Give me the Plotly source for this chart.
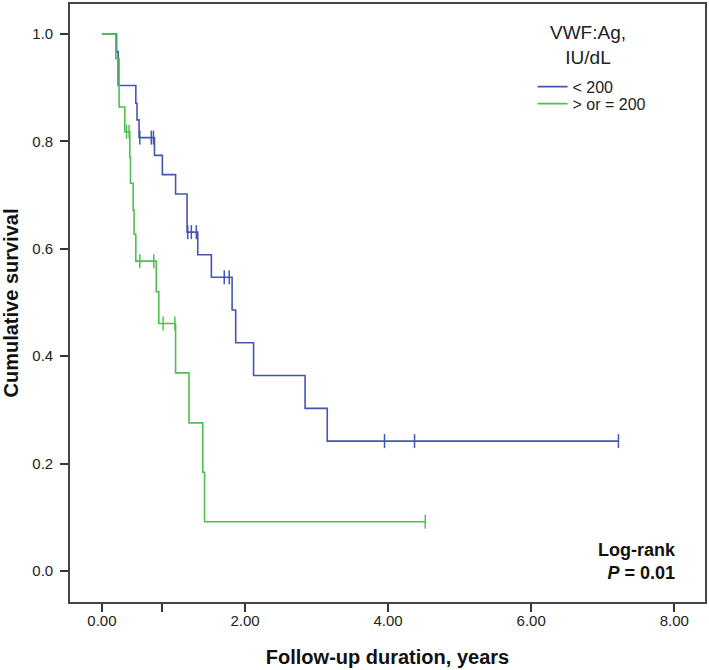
import plotly.graph_objects as go

# ---- data ----
blue_name = "< 200"
blue_time = [0.205, 0.227, 0.474, 0.491, 0.519, 0.735, 0.845, 1.03, 1.19, 1.34, 1.53, 1.82, 1.87, 2.12, 2.84, 3.15]
blue_surv = [0.967, 0.904, 0.871, 0.840, 0.807, 0.774, 0.738, 0.702, 0.631, 0.589, 0.547, 0.486, 0.425, 0.364, 0.303, 0.242]
blue_censor = [0.53, 0.69, 0.72, 1.20, 1.25, 1.32, 1.71, 1.78, 3.95, 4.37, 7.22]

green_name = "> or = 200"
green_time = [0.195, 0.24, 0.32, 0.39, 0.40, 0.437, 0.45, 0.474, 0.76, 0.795, 1.03, 1.217, 1.41, 1.435]
green_surv = [0.954, 0.864, 0.818, 0.770, 0.722, 0.672, 0.627, 0.577, 0.520, 0.461, 0.369, 0.276, 0.184, 0.092]
green_censor = [0.344, 0.38, 0.53, 0.725, 0.855, 1.02, 4.52]

legend_title = "VWF:Ag,<br>IU/dL"
x_tickvals = [0, 0.84, 2, 4, 6, 8]
x_ticktext = ["0.00", "", "2.00", "4.00", "6.00", "8.00"]
y_tickvals = [0.0, 0.2, 0.4, 0.6, 0.8, 1.0]
y_ticktext = ["0.0", "0.2", "0.4", "0.6", "0.8", "1.0"]

BLUE = "#4357b0"
GREEN = "#4fc04f"
FONT = "Liberation Sans, Arial, sans-serif"


def surv_at(times, surv, t):
    s = 1.0
    for ti, si in zip(times, surv):
        if ti <= t:
            s = si
    return s


fig = go.Figure()

for name, times, surv, cens, col, leg in [
    (blue_name, blue_time, blue_surv, blue_censor, BLUE, "legend"),
    (green_name, green_time, green_surv, green_censor, GREEN, "legend2"),
]:
    xs = [0] + times + [max(cens)]
    ys = [1.0] + surv + [surv[-1]]
    fig.add_trace(go.Scatter(
        x=xs, y=ys, mode="lines", line=dict(color=col, width=1.6, shape="hv"),
        name=name, showlegend=True, legend=leg, hoverinfo="skip"))
    fig.add_trace(go.Scatter(
        x=cens, y=[surv_at(times, surv, c) for c in cens], mode="markers",
        marker=dict(symbol="line-ns", size=10, line=dict(color=col, width=1.5)),
        showlegend=False, hoverinfo="skip"))

legend_style = dict(
    x=0.7284, xanchor="left", yanchor="middle",
    bgcolor="rgba(0,0,0,0)",
    font=dict(size=16, family=FONT, color="#222"),
)

fig.update_layout(
    width=709, height=670,
    margin=dict(l=70, r=2, t=2, b=68),
    paper_bgcolor="white", plot_bgcolor="white",
    font=dict(family=FONT, color="#222"),
    showlegend=True,
    legend=dict(y=0.8617, **legend_style),
    legend2=dict(y=0.8333, **legend_style),
    xaxis=dict(
        range=[-0.446, 8.43], tickvals=x_tickvals, ticktext=x_ticktext,
        ticks="outside", ticklen=8, tickwidth=2, tickcolor="#333",
        showline=True, linecolor="#444", linewidth=1.6, mirror=True,
        showgrid=False, zeroline=False,
        tickfont=dict(size=15, family=FONT, color="#222"),
        ticklabelstandoff=-4,
        title=dict(text="<b>Follow-up duration, years</b>", standoff=22,
                   font=dict(size=20, family=FONT, color="#111")),
    ),
    yaxis=dict(
        range=[-0.0575, 1.0557], tickvals=y_tickvals, ticktext=y_ticktext,
        ticks="outside", ticklen=8, tickwidth=2, tickcolor="#333",
        showline=True, linecolor="#444", linewidth=1.6, mirror=True,
        showgrid=False, zeroline=False,
        tickfont=dict(size=15, family=FONT, color="#222"),
        ticklabelstandoff=4,
        title=dict(text="<b>Cumulative survival</b>", standoff=14,
                   font=dict(size=20, family=FONT, color="#111")),
    ),
    annotations=[
        dict(text="<b>Log-rank</b><br><b><i>P</i> = 0.01</b>",
             xref="paper", yref="paper", x=0.958, y=0.068,
             xanchor="right", yanchor="middle", align="right", showarrow=False,
             font=dict(size=18, family=FONT, color="#111")),
        dict(text=legend_title,
             xref="paper", yref="paper", x=(590 - 70) / 637, y=1 - (43 - 2) / 600,
             xanchor="center", yanchor="middle", align="center", showarrow=False,
             font=dict(size=19, family=FONT, color="#222")),
    ],
)

fig.write_html("out.html", config={"displayModeBar": False},
               post_script="document.body.style.margin='0';document.body.style.overflow='hidden';")
